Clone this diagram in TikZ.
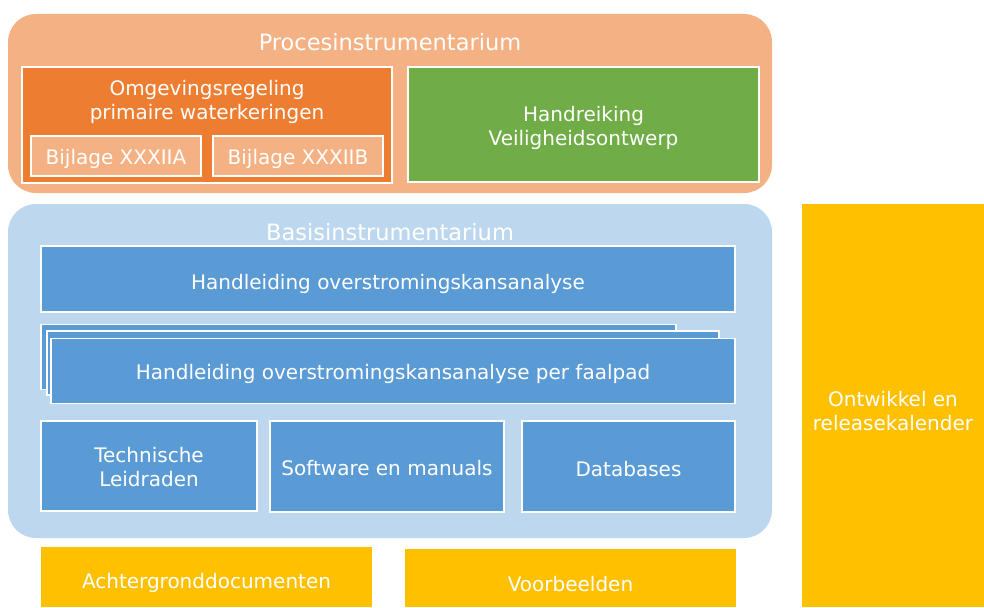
\documentclass[tikz,border=0pt]{standalone}
\usepackage{fontspec}
\setmainfont{DejaVu Sans}
\definecolor{procbg}{HTML}{F4B183}
\definecolor{darkor}{HTML}{ED7D31}
\definecolor{greenbx}{HTML}{70AD47}
\definecolor{basbg}{HTML}{BDD7EE}
\definecolor{bluebx}{HTML}{5B9BD5}
\definecolor{goldbx}{HTML}{FFC000}
\tikzset{
  x=1pt, y=-1pt,
  group/.style={fill=#1, draw=none, rounded corners=28pt, inner sep=0pt},
  box/.style={fill=#1, draw=white, line width=1.2pt, inner sep=0pt},
  plain/.style={fill=#1, draw=none, inner sep=0pt},
  txt/.style={text=white, inner sep=0pt, align=center, font=\fontsize{20}{24}\selectfont},
  title/.style={text=white, inner sep=0pt, font=\fontsize{22.5}{26}\selectfont},
}
\begin{document}
\begin{tikzpicture}
\useasboundingbox (0,0) rectangle (984,607);
% Procesinstrumentarium
\node[group=procbg, minimum width=764pt, minimum height=179pt] (proc) at (390,103.5) {};
\node[title] (proct) at (390,42) {Procesinstrumentarium};
\node[box=darkor, minimum width=370pt, minimum height=116pt] (omg) at (207,125) {};
\node[txt] (omgt) at (207,101.5) {Omgevingsregeling\\primaire waterkeringen};
\node[box=procbg, minimum width=170pt, minimum height=40pt] (bija) at (116,156) {};
\node[txt] (bijat) at (116,159) {Bijlage XXXIIA};
\node[box=procbg, minimum width=170pt, minimum height=40pt] (bijb) at (298,156) {};
\node[txt] (bijbt) at (298,159) {Bijlage XXXIIB};
\node[box=greenbx, minimum width=351pt, minimum height=115pt] (hvo) at (583.5,124.5) {};
\node[txt] (hvot) at (583.5,127.5) {Handreiking\\Veiligheidsontwerp};
% Basisinstrumentarium
\node[group=basbg, minimum width=764pt, minimum height=334pt] (bas) at (390,371) {};
\node[title] (bast) at (390,232) {Basisinstrumentarium};
\node[box=bluebx, minimum width=694pt, minimum height=66pt] (hoa) at (388,279) {};
\node[txt] (hoat) at (388,284) {Handleiding overstromingskansanalyse};
\node[box=bluebx, minimum width=635pt, minimum height=65pt] (st1) at (358.5,357) {};
\node[box=bluebx, minimum width=672pt, minimum height=64pt] (st2) at (383,363) {};
\node[box=bluebx, minimum width=684pt, minimum height=65pt] (st3) at (393,371) {};
\node[txt] (st3t) at (393,374) {Handleiding overstromingskansanalyse per faalpad};
\node[box=bluebx, minimum width=216pt, minimum height=90pt] (tl) at (149,466) {};
\node[txt] (tlt) at (149,467) {Technische\\Leidraden};
\node[box=bluebx, minimum width=234pt, minimum height=91pt] (sm) at (387,466.5) {};
\node[txt] (smt) at (387,468.5) {Software en manuals};
\node[box=bluebx, minimum width=213pt, minimum height=91pt] (db) at (628.5,466.5) {};
\node[txt] (dbt) at (628.5,469.5) {Databases};
% Yellow boxes
\node[plain=goldbx, minimum width=331pt, minimum height=60pt] (ach) at (206.5,577) {};
\node[txt] (acht) at (206.5,583) {Achtergronddocumenten};
\node[plain=goldbx, minimum width=331pt, minimum height=58pt] (vb) at (570.5,578) {};
\node[txt] (vbt) at (570.5,584) {Voorbeelden};
\node[plain=goldbx, minimum width=182pt, minimum height=403pt] (orc) at (893,405.5) {};
\node[txt] (orct) at (893,411.5) {Ontwikkel en\\releasekalender};
\end{tikzpicture}
\end{document}
